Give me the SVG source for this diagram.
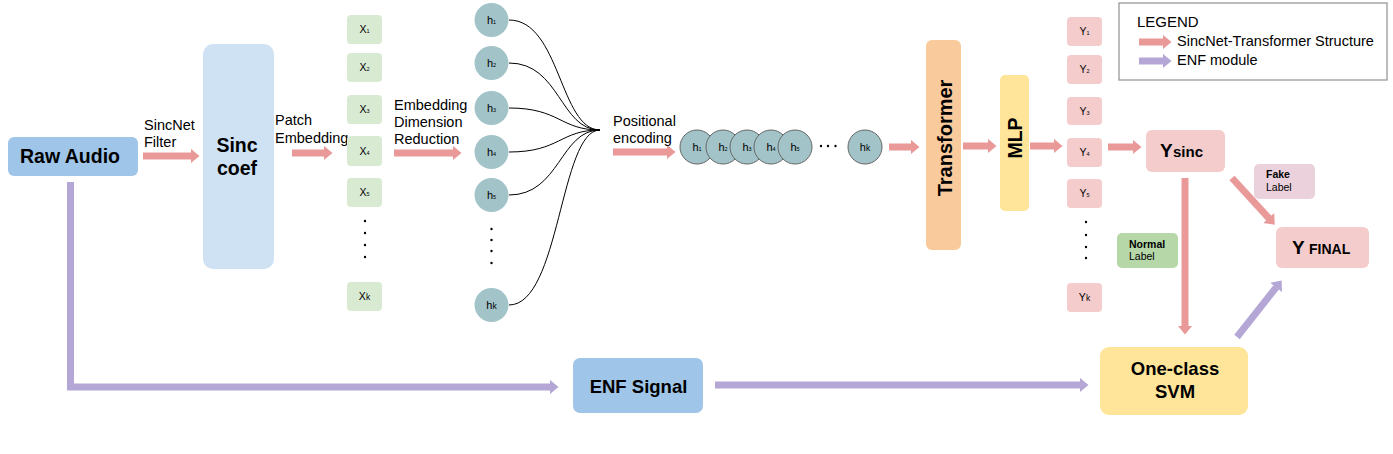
<svg xmlns="http://www.w3.org/2000/svg" width="1393" height="454" viewBox="0 0 1393 454">
<style>
text{font-family:"Liberation Sans",Arial,sans-serif;fill:#000}
.lbl{font-size:14.5px}
.big{font-size:19.5px;font-weight:bold}
.sm{font-size:10.5px}
.hl{font-size:11px}
.sub{font-size:5.5px}
.subk{font-size:8.5px}
.xb{fill:#d9ead3}
.yb{fill:#f4cccc}
.hc{fill:#a2c4c9}
.hr{fill:#a2c4c9;stroke:#666;stroke-width:1}
.pk{stroke:#ea9999;stroke-width:7;fill:none;marker-end:url(#ap)}
.pu{stroke:#b4a7d6;stroke-width:7;fill:none;marker-end:url(#au)}
.cv{stroke:#000;stroke-width:1;fill:none}
.dot{fill:#000}
</style>
<defs>
<marker id="ap" markerUnits="userSpaceOnUse" markerWidth="10" markerHeight="15" refX="0.5" refY="7.5" orient="auto"><path d="M0,0 L9,7.5 L0,15 z" fill="#ea9999"/></marker>
<marker id="au" markerUnits="userSpaceOnUse" markerWidth="10" markerHeight="15" refX="0.5" refY="7.5" orient="auto"><path d="M0,0 L9,7.5 L0,15 z" fill="#b4a7d6"/></marker>
</defs>
<rect width="1393" height="454" fill="#fff"/>

<g id="connectors">
<line class="pk" x1="143" y1="156" x2="191" y2="156"/>
<line class="pk" x1="292" y1="153" x2="324" y2="153"/>
<line class="pk" x1="394" y1="153" x2="453" y2="153"/>
<line class="pk" x1="613" y1="152" x2="667" y2="152"/>
<line class="pk" x1="889" y1="147" x2="911" y2="147"/>
<line class="pk" x1="963" y1="146" x2="988" y2="146"/>
<line class="pk" x1="1030" y1="146" x2="1054" y2="146"/>
<line class="pk" x1="1108" y1="147" x2="1133" y2="147"/>
<line class="pk" x1="1185" y1="178" x2="1185" y2="326"/>
<line class="pk" x1="1232" y1="178" x2="1269" y2="218.4"/>
<polyline class="pu" points="70.5,182 70.5,387 550,387" stroke-linejoin="miter"/>
<line class="pu" x1="715" y1="385" x2="1080" y2="385"/>
<line class="pu" x1="1237" y1="337" x2="1276.4" y2="287.1"/>
<path class="cv" d="M509,20 C560,20 560,130 600,130"/>
<path class="cv" d="M509,63 C560,63 560,130 600,130"/>
<path class="cv" d="M509,108 C560,108 560,130 600,130"/>
<path class="cv" d="M509,152 C560,152 560,130 600,130"/>
<path class="cv" d="M509,195 C560,195 560,130 600,130"/>
<path class="cv" d="M509,305 C560,305 560,130 600,130"/>
<text class="lbl" x="144" y="130">SincNet</text>
<text class="lbl" x="144" y="147">Filter</text>
<text class="lbl" x="275" y="125">Patch</text>
<text class="lbl" x="275" y="143">Embedding</text>
<text class="lbl" x="394" y="110">Embedding</text>
<text class="lbl" x="394" y="127">Dimension</text>
<text class="lbl" x="394" y="144">Reduction</text>
<text class="lbl" x="613" y="126">Positional</text>
<text class="lbl" x="613" y="143">encoding</text>
</g>

<g id="raw-audio">
<rect x="8" y="137" width="130" height="39" rx="6" fill="#9fc5e8"/>
<text class="big" x="70" y="163" text-anchor="middle">Raw Audio</text>
</g>

<g id="sinc-coef">
<rect x="203" y="44" width="71" height="225" rx="10" fill="#cfe2f3"/>
<text class="big" x="237" y="152" text-anchor="middle">Sinc</text>
<text class="big" x="237" y="175" text-anchor="middle">coef</text>
</g>

<g id="x-patches">
<rect class="xb" x="347" y="15" width="35" height="29" rx="4"/>
<text class="sm" x="364.5" y="33" text-anchor="middle">X<tspan class="sub">1</tspan></text>
<rect class="xb" x="347" y="53" width="35" height="29" rx="4"/>
<text class="sm" x="364.5" y="71" text-anchor="middle">X<tspan class="sub">2</tspan></text>
<rect class="xb" x="347" y="95" width="35" height="29" rx="4"/>
<text class="sm" x="364.5" y="113" text-anchor="middle">X<tspan class="sub">3</tspan></text>
<rect class="xb" x="347" y="136" width="35" height="30" rx="4"/>
<text class="sm" x="364.5" y="155" text-anchor="middle">X<tspan class="sub">4</tspan></text>
<rect class="xb" x="347" y="178" width="35" height="29" rx="4"/>
<text class="sm" x="364.5" y="196" text-anchor="middle">X<tspan class="sub">5</tspan></text>
<circle class="dot" cx="365" cy="221" r="1.2"/>
<circle class="dot" cx="365" cy="233" r="1.2"/>
<circle class="dot" cx="365" cy="245" r="1.2"/>
<circle class="dot" cx="365" cy="257" r="1.2"/>
<rect class="xb" x="347" y="282" width="35" height="29" rx="4"/>
<text class="sm" x="364.5" y="300" text-anchor="middle">X<tspan class="subk">k</tspan></text>
</g>

<g id="h-column">
<circle class="hc" cx="491.5" cy="20" r="17"/>
<text class="hl" x="491.5" y="24" text-anchor="middle">h<tspan class="sub">1</tspan></text>
<circle class="hc" cx="491.5" cy="63" r="17"/>
<text class="hl" x="491.5" y="67" text-anchor="middle">h<tspan class="sub">2</tspan></text>
<circle class="hc" cx="491.5" cy="108" r="17"/>
<text class="hl" x="491.5" y="112" text-anchor="middle">h<tspan class="sub">3</tspan></text>
<circle class="hc" cx="491.5" cy="152" r="17"/>
<text class="hl" x="491.5" y="156" text-anchor="middle">h<tspan class="sub">4</tspan></text>
<circle class="hc" cx="491.5" cy="195" r="17"/>
<text class="hl" x="491.5" y="199" text-anchor="middle">h<tspan class="sub">5</tspan></text>
<circle class="dot" cx="491.5" cy="229" r="1.2"/>
<circle class="dot" cx="491.5" cy="240" r="1.2"/>
<circle class="dot" cx="491.5" cy="251" r="1.2"/>
<circle class="dot" cx="491.5" cy="263" r="1.2"/>
<circle class="hc" cx="491.5" cy="305" r="17"/>
<text class="hl" x="491.5" y="309" text-anchor="middle">h<tspan class="subk">k</tspan></text>
</g>

<g id="h-row">
<circle class="hr" cx="697" cy="147" r="17"/>
<text class="hl" x="697" y="151" text-anchor="middle">h<tspan class="sub">1</tspan></text>
<circle class="hr" cx="723" cy="147" r="17"/>
<text class="hl" x="723" y="151" text-anchor="middle">h<tspan class="sub">2</tspan></text>
<circle class="hr" cx="747" cy="147" r="17"/>
<text class="hl" x="747" y="151" text-anchor="middle">h<tspan class="sub">3</tspan></text>
<circle class="hr" cx="771" cy="147" r="17"/>
<text class="hl" x="771" y="151" text-anchor="middle">h<tspan class="sub">4</tspan></text>
<circle class="hr" cx="795" cy="147" r="17"/>
<text class="hl" x="795" y="151" text-anchor="middle">h<tspan class="sub">5</tspan></text>
<circle class="dot" cx="821" cy="146" r="1.2"/>
<circle class="dot" cx="828" cy="146" r="1.2"/>
<circle class="dot" cx="835.5" cy="146" r="1.2"/>
<circle class="hr" cx="865" cy="147" r="17"/>
<text class="hl" x="865" y="151" text-anchor="middle">h<tspan class="subk">k</tspan></text>
</g>

<g id="transformer">
<rect x="926" y="40" width="35" height="210" rx="6" fill="#f9cb9c"/>
<text class="big" transform="translate(951.5,138) rotate(-90)" text-anchor="middle" style="font-size:20px">Transformer</text>
</g>

<g id="mlp">
<rect x="1000" y="75" width="29" height="136" rx="5" fill="#ffe599"/>
<text class="big" transform="translate(1021.5,138) rotate(-90)" text-anchor="middle">MLP</text>
</g>

<g id="y-outputs">
<rect class="yb" x="1067" y="17" width="35" height="29" rx="4"/>
<text class="sm" x="1084.5" y="35" text-anchor="middle">Y<tspan class="sub">1</tspan></text>
<rect class="yb" x="1067" y="55" width="35" height="29" rx="4"/>
<text class="sm" x="1084.5" y="73" text-anchor="middle">Y<tspan class="sub">2</tspan></text>
<rect class="yb" x="1067" y="97" width="35" height="28" rx="4"/>
<text class="sm" x="1084.5" y="115" text-anchor="middle">Y<tspan class="sub">3</tspan></text>
<rect class="yb" x="1067" y="138" width="35" height="29" rx="4"/>
<text class="sm" x="1084.5" y="156" text-anchor="middle">Y<tspan class="sub">4</tspan></text>
<rect class="yb" x="1067" y="179" width="35" height="29" rx="4"/>
<text class="sm" x="1084.5" y="197" text-anchor="middle">Y<tspan class="sub">5</tspan></text>
<circle class="dot" cx="1086" cy="222" r="1.2"/>
<circle class="dot" cx="1086" cy="235" r="1.2"/>
<circle class="dot" cx="1086" cy="247" r="1.2"/>
<circle class="dot" cx="1086" cy="258" r="1.2"/>
<rect class="yb" x="1067" y="283" width="35" height="29" rx="4"/>
<text class="sm" x="1084.5" y="301" text-anchor="middle">Y<tspan class="subk">k</tspan></text>
</g>

<g id="y-sinc">
<rect x="1146" y="130" width="79" height="42" rx="6" fill="#f4cccc"/>
<text x="1160" y="157" font-weight="bold" font-size="19">Y<tspan x="1173" font-size="15">sinc</tspan></text>
</g>

<g id="fake-label">
<rect x="1254" y="164" width="61" height="35" rx="5" fill="#ead1dc"/>
<text class="sm" x="1266" y="178" font-weight="bold">Fake</text>
<text class="sm" x="1266" y="191">Label</text>
</g>

<g id="normal-label">
<rect x="1117" y="233" width="61" height="35" rx="5" fill="#b6d7a8"/>
<text class="sm" x="1129" y="248" font-weight="bold">Normal</text>
<text class="sm" x="1129" y="260">Label</text>
</g>

<g id="y-final">
<rect x="1276" y="227" width="93" height="41" rx="6" fill="#f4cccc"/>
<text x="1292" y="254" font-weight="bold" font-size="19">Y<tspan x="1309" font-size="14">FINAL</tspan></text>
</g>

<g id="enf-signal">
<rect x="573" y="358" width="130" height="55" rx="7" fill="#9fc5e8"/>
<text class="big" x="638.5" y="393" text-anchor="middle" style="font-size:18.5px">ENF Signal</text>
</g>

<g id="svm">
<rect x="1100" y="347" width="148" height="68" rx="9" fill="#ffe599"/>
<text class="big" x="1175" y="375" text-anchor="middle" style="font-size:18.5px">One-class</text>
<text class="big" x="1175" y="398" text-anchor="middle" style="font-size:18.5px">SVM</text>
</g>

<g id="legend">
<rect x="1119" y="3" width="268" height="77" fill="#fff" stroke="#999" stroke-width="1.3"/>
<text x="1137" y="27" font-size="15">LEGEND</text>
<line class="pk" x1="1139" y1="42" x2="1163" y2="42"/>
<text class="lbl" x="1177" y="46">SincNet-Transformer Structure</text>
<line class="pu" x1="1139" y1="61" x2="1163" y2="61"/>
<text class="lbl" x="1177" y="65">ENF module</text>
</g>
</svg>
